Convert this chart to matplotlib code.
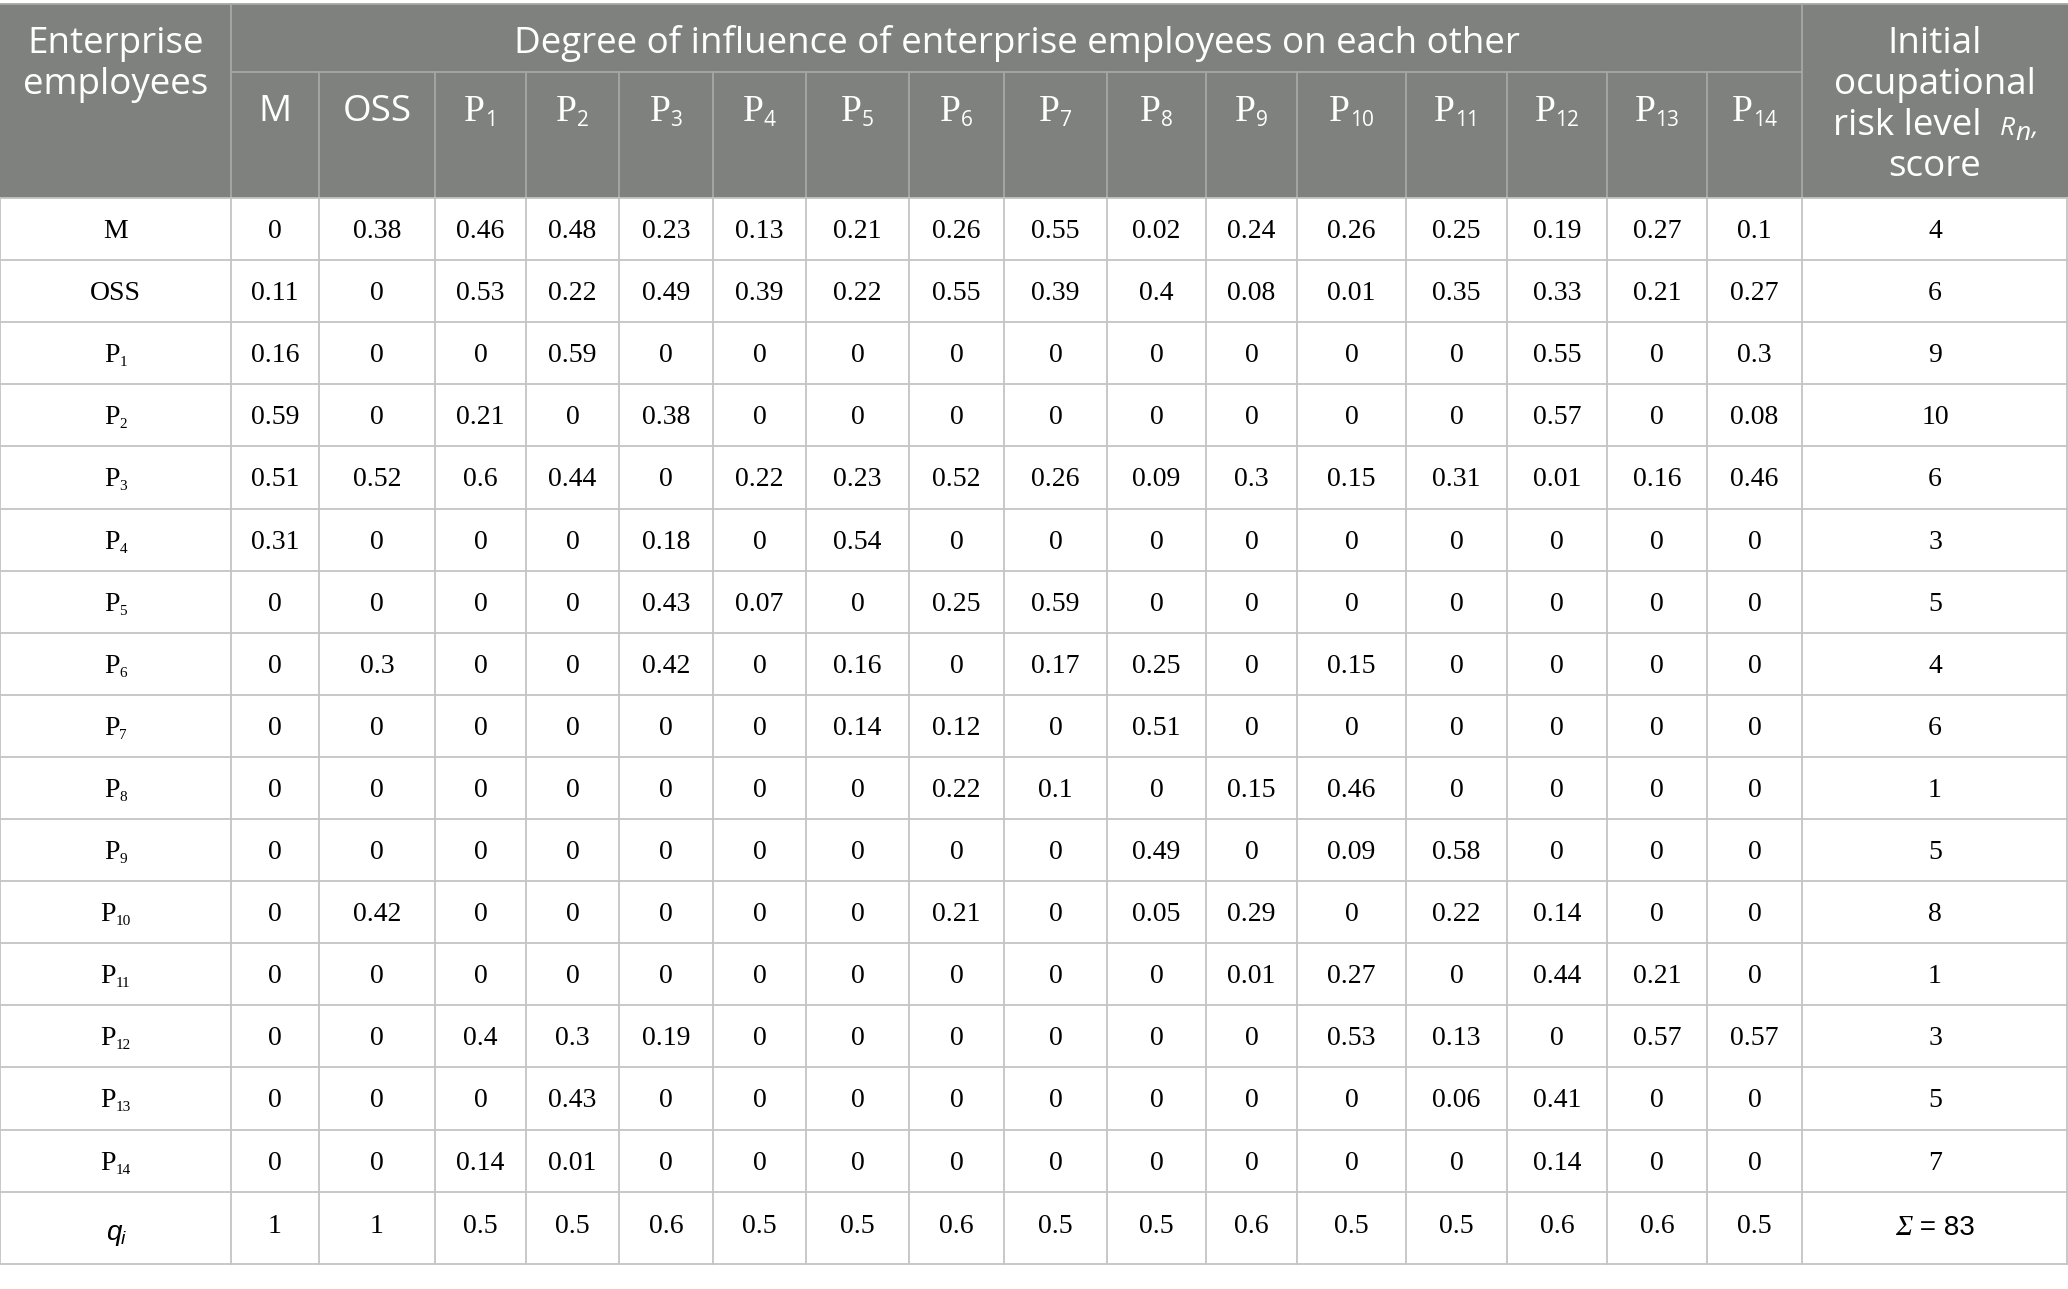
import matplotlib
matplotlib.use('Agg')
import matplotlib.pyplot as plt
from matplotlib.patches import Rectangle

# данные таблицы
col_names = ['M', 'OSS'] + ['P%d' % i for i in range(1, 15)]
row_names = ['M', 'OSS'] + ['P%d' % i for i in range(1, 15)]

influence = [
    [0, 0.38, 0.46, 0.48, 0.23, 0.13, 0.21, 0.26, 0.55, 0.02, 0.24, 0.26, 0.25, 0.19, 0.27, 0.1],
    [0.11, 0, 0.53, 0.22, 0.49, 0.39, 0.22, 0.55, 0.39, 0.4, 0.08, 0.01, 0.35, 0.33, 0.21, 0.27],
    [0.16, 0, 0, 0.59, 0, 0, 0, 0, 0, 0, 0, 0, 0, 0.55, 0, 0.3],
    [0.59, 0, 0.21, 0, 0.38, 0, 0, 0, 0, 0, 0, 0, 0, 0.57, 0, 0.08],
    [0.51, 0.52, 0.6, 0.44, 0, 0.22, 0.23, 0.52, 0.26, 0.09, 0.3, 0.15, 0.31, 0.01, 0.16, 0.46],
    [0.31, 0, 0, 0, 0.18, 0, 0.54, 0, 0, 0, 0, 0, 0, 0, 0, 0],
    [0, 0, 0, 0, 0.43, 0.07, 0, 0.25, 0.59, 0, 0, 0, 0, 0, 0, 0],
    [0, 0.3, 0, 0, 0.42, 0, 0.16, 0, 0.17, 0.25, 0, 0.15, 0, 0, 0, 0],
    [0, 0, 0, 0, 0, 0, 0.14, 0.12, 0, 0.51, 0, 0, 0, 0, 0, 0],
    [0, 0, 0, 0, 0, 0, 0, 0.22, 0.1, 0, 0.15, 0.46, 0, 0, 0, 0],
    [0, 0, 0, 0, 0, 0, 0, 0, 0, 0.49, 0, 0.09, 0.58, 0, 0, 0],
    [0, 0.42, 0, 0, 0, 0, 0, 0.21, 0, 0.05, 0.29, 0, 0.22, 0.14, 0, 0],
    [0, 0, 0, 0, 0, 0, 0, 0, 0, 0, 0.01, 0.27, 0, 0.44, 0.21, 0],
    [0, 0, 0.4, 0.3, 0.19, 0, 0, 0, 0, 0, 0, 0.53, 0.13, 0, 0.57, 0.57],
    [0, 0, 0, 0.43, 0, 0, 0, 0, 0, 0, 0, 0, 0.06, 0.41, 0, 0],
    [0, 0, 0.14, 0.01, 0, 0, 0, 0, 0, 0, 0, 0, 0, 0.14, 0, 0],
]
risk_level = [4, 6, 9, 10, 6, 3, 5, 4, 6, 1, 5, 8, 1, 3, 5, 7]
q_values = [1, 1, 0.5, 0.5, 0.6, 0.5, 0.5, 0.6, 0.5, 0.5, 0.6, 0.5, 0.5, 0.6, 0.6, 0.5]
risk_total = 83

# разметка (пиксели)
W, H = 2068, 1289
col_edges = [0, 231, 319, 435, 526, 619, 713, 806, 909, 1004, 1107, 1206,
             1297, 1406, 1507, 1607, 1707, 1802, W]
head_top, head_mid, head_bot = 4, 72, 198
row_h = 62.1
q_bot = 1264

HEAD_BG = '#7f817f'
HEAD_LINE = '#a6a8a6'
GRID = '#c4c4c4'
SANS = 'Open Sans'
SERIF = 'Liberation Serif'

fig = plt.figure(figsize=(W / 100, H / 100), dpi=100)
ax = fig.add_axes([0, 0, 1, 1])
ax.set_xlim(0, W)
ax.set_ylim(H, 0)
ax.axis('off')
renderer = fig.canvas.get_renderer()


def runs_text(x, y, runs, color='black'):
    # несколько кусков текста подряд, общий центр по x, y - базовая линия
    items = []
    for s, props, dy in runs:
        t = ax.text(0, y + dy, s, ha='left', va='baseline', color=color, **props)
        items.append(t)
    widths = [t.get_window_extent(renderer).width for t in items]
    cur = x - sum(widths) / 2
    for t, w in zip(items, widths):
        t.set_x(cur)
        cur += w


def fmt(v):
    return ('%g' % v)


# шапка
ax.add_patch(Rectangle((0, head_top), W, head_bot - head_top, color=HEAD_BG, lw=0))
ax.plot([col_edges[1], col_edges[-2]], [head_mid, head_mid], color=HEAD_LINE, lw=1.3)
ax.plot([0, W], [head_top, head_top], color=HEAD_LINE, lw=1.3)
for i, x in enumerate(col_edges[1:-1], start=1):
    y0 = head_top if i in (1, len(col_edges) - 2) else head_mid
    ax.plot([x, x], [y0, head_bot], color=HEAD_LINE, lw=1.3)

hs = 26.5
hdr = dict(family=SANS, fontsize=hs)
ax.text(115.5, 53, 'Enterprise', ha='center', va='baseline', color='white', **hdr)
ax.text(115.5, 94, 'employees', ha='center', va='baseline', color='white', **hdr)
ax.text((col_edges[1] + col_edges[-2]) / 2, 53, 'Degree of influence of enterprise employees on each other',
        ha='center', va='baseline', color='white', **hdr)
xr = (col_edges[-2] + col_edges[-1]) / 2
ax.text(xr, 53, 'Initial', ha='center', va='baseline', color='white', **hdr)
ax.text(xr, 94, 'ocupational', ha='center', va='baseline', color='white', **hdr)
runs_text(xr, 135, [('risk level  ', hdr, 0),
                    ('R', dict(family=SANS, fontsize=19, style='italic'), 0),
                    ('n', dict(family=SANS, fontsize=19, style='italic'), 5),
                    (',', dict(family=SANS, fontsize=19, style='italic'), 0)], color='white')
ax.text(xr, 176, 'score', ha='center', va='baseline', color='white', **hdr)

for j, name in enumerate(col_names):
    cx = (col_edges[j + 1] + col_edges[j + 2]) / 2
    if name.startswith('P'):
        runs_text(cx, 121, [('P', dict(family=SERIF, fontsize=27), 0),
                            (name[1:], dict(family=SANS, fontsize=15), 5)], color='white')
    else:
        ax.text(cx, 121, name, ha='center', va='baseline', color='white', **hdr)

# тело таблицы
n_rows = len(row_names)
row_edges = [head_bot + row_h * k for k in range(n_rows + 1)] + [q_bot]
for y in row_edges:
    ax.plot([0, W], [y, y], color=GRID, lw=1.3)
for x in col_edges[:-1] + [W - 1]:
    ax.plot([x, x], [head_bot, q_bot], color=GRID, lw=1.3)

for i, name in enumerate(row_names):
    yb = (row_edges[i] + row_edges[i + 1]) / 2 + 9
    if name.startswith('P'):
        runs_text(115.5, yb, [('P', dict(family=SERIF, fontsize=20), 0),
                              (name[1:], dict(family=SERIF, fontsize=11), 4)])
    else:
        ax.text(115.5, yb, name, ha='center', va='baseline', family=SERIF, fontsize=20)
    for j, v in enumerate(influence[i]):
        cx = (col_edges[j + 1] + col_edges[j + 2]) / 2
        ax.text(cx, yb, fmt(v), ha='center', va='baseline', family=SERIF, fontsize=20)
    ax.text(xr, yb, str(risk_level[i]), ha='center', va='baseline', family=SERIF, fontsize=20)

# строка q_i
yq = 1233
runs_text(115.5, 1240, [('q', dict(family='Liberation Sans', fontsize=20, style='italic'), 0),
                        ('i', dict(family='Liberation Sans', fontsize=14, style='italic'), 4)])
for j, v in enumerate(q_values):
    cx = (col_edges[j + 1] + col_edges[j + 2]) / 2
    ax.text(cx, yq, fmt(v), ha='center', va='baseline', family=SERIF, fontsize=20)
runs_text(xr, 1235, [('Σ', dict(family=SERIF, fontsize=21, style='italic'), 0),
                     (' = %d' % risk_total, dict(family='Liberation Sans', fontsize=20), 0)])

fig.savefig('out.png', dpi=100)
